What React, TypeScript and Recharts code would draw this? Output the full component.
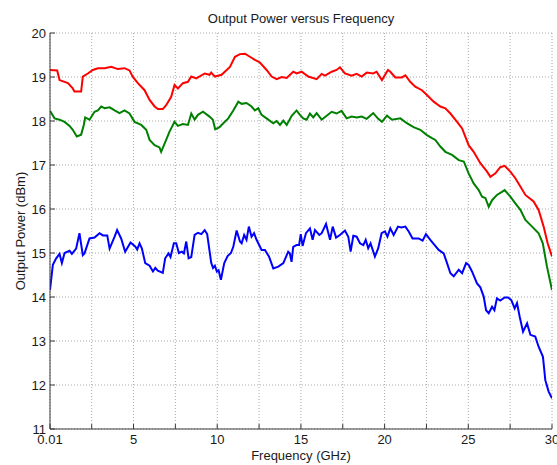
import React from 'react';
import { LineChart, Line, XAxis, YAxis, CartesianGrid } from 'recharts';

const chartTitle = 'Output Power versus Frequency';
const xTitle = 'Frequency (GHz)';
const yTitle = 'Output Power (dBm)';

const xTicks = [0.01, 2.5, 5, 7.5, 10, 12.5, 15, 17.5, 20, 22.5, 25, 27.5, 30];
const xTickLabels = ['0.01', '', '5', '', '10', '', '15', '', '20', '', '25', '', '30'];
const yTicks = [11, 12, 13, 14, 15, 16, 17, 18, 19, 20];

// [frequency GHz, power dBm]
const redPoints: [number, number][] = [
  [0.01, 19.16], [0.44, 19.15], [0.58, 18.93], [1.08, 18.86], [1.37, 18.74], [1.47, 18.67], [1.87, 18.67],
  [1.97, 19.01], [2.27, 19.08], [2.57, 19.16], [2.87, 19.2], [3.27, 19.2], [3.67, 19.23], [4.06, 19.18],
  [4.46, 19.2], [4.76, 19.15], [4.96, 19.0], [5.26, 18.86], [5.66, 18.7], [5.96, 18.48], [6.26, 18.33],
  [6.46, 18.27], [6.75, 18.27], [6.95, 18.36], [7.25, 18.55], [7.45, 18.82], [7.65, 18.74], [7.95, 18.86],
  [8.25, 18.89], [8.45, 19.01], [8.75, 18.97], [9.25, 19.08], [9.54, 19.05], [9.64, 19.1], [9.86, 19.01],
  [10.26, 19.05], [10.76, 19.23], [11.06, 19.46], [11.36, 19.52], [11.66, 19.53], [11.95, 19.46],
  [12.25, 19.39], [12.55, 19.33], [12.95, 19.16], [13.25, 19.01], [13.55, 18.95], [13.85, 19.0],
  [14.15, 18.98], [14.54, 19.12], [14.74, 19.08], [15.04, 19.12], [15.44, 19.01], [15.94, 18.95],
  [16.24, 19.07], [16.44, 19.03], [16.84, 19.12], [17.13, 19.16], [17.33, 19.22], [17.63, 19.08],
  [18.03, 19.03], [18.33, 19.07], [18.63, 19.01], [18.93, 19.1], [19.32, 19.08], [19.52, 19.12],
  [19.84, 18.93], [20.2, 19.16], [20.34, 19.12], [20.64, 18.99], [21.04, 18.99], [21.24, 19.04],
  [21.53, 18.89], [21.83, 18.78], [22.23, 18.7], [22.53, 18.59], [22.93, 18.44], [23.33, 18.33],
  [23.63, 18.29], [23.93, 18.17], [24.33, 17.98], [24.63, 17.83], [25.02, 17.45], [25.32, 17.3],
  [25.72, 17.04], [26.12, 16.85], [26.32, 16.73], [26.62, 16.81], [26.91, 16.95], [27.17, 16.98],
  [27.51, 16.85], [27.81, 16.7], [28.11, 16.51], [28.41, 16.32], [28.9, 16.17], [29.2, 15.98],
  [29.5, 15.6], [29.74, 15.22], [30, 14.92],
];

const greenPoints: [number, number][] = [
  [0.01, 18.23], [0.28, 18.06], [0.58, 18.03], [0.88, 17.98], [1.18, 17.89], [1.37, 17.8], [1.61, 17.65],
  [1.87, 17.69], [2.03, 17.91], [2.11, 18.08], [2.37, 18.03], [2.67, 18.21], [2.87, 18.24], [3.07, 18.33],
  [3.27, 18.29], [3.57, 18.31], [3.87, 18.24], [4.16, 18.18], [4.46, 18.24], [4.76, 18.17], [5.06, 17.98],
  [5.46, 17.91], [5.76, 17.8], [5.96, 17.57], [6.26, 17.45], [6.55, 17.4], [6.65, 17.3], [6.95, 17.57],
  [7.15, 17.76], [7.45, 17.98], [7.65, 17.89], [7.95, 17.93], [8.25, 17.91], [8.45, 18.17], [8.65, 18.03],
  [8.85, 18.14], [9.15, 18.21], [9.54, 18.1], [9.74, 18.03], [9.88, 17.81], [10.14, 17.86], [10.26, 17.91],
  [10.66, 18.06], [10.96, 18.24], [11.26, 18.44], [11.46, 18.39], [11.75, 18.41], [12.05, 18.33],
  [12.25, 18.24], [12.45, 18.29], [12.65, 18.14], [13.05, 18.03], [13.35, 17.95], [13.55, 18.0],
  [13.75, 17.91], [13.95, 18.01], [14.15, 17.91], [14.45, 18.12], [14.74, 18.24], [14.94, 18.14],
  [15.14, 18.06], [15.34, 18.03], [15.54, 18.17], [15.74, 18.08], [15.94, 18.18], [16.24, 18.03],
  [16.54, 18.12], [16.84, 18.21], [17.13, 18.17], [17.43, 18.23], [17.73, 18.06], [18.03, 18.1],
  [18.33, 18.08], [18.63, 18.1], [18.93, 18.05], [19.32, 18.18], [19.62, 18.05], [19.84, 17.98],
  [20.14, 18.12], [20.44, 18.03], [20.94, 18.06], [21.33, 17.95], [21.73, 17.86], [22.13, 17.8],
  [22.53, 17.68], [22.83, 17.61], [23.03, 17.57], [23.33, 17.42], [23.63, 17.3], [24.03, 17.23],
  [24.43, 17.11], [24.73, 17.08], [25.02, 16.81], [25.32, 16.58], [25.62, 16.43], [25.82, 16.28],
  [26.02, 16.25], [26.22, 16.05], [26.42, 16.2], [26.71, 16.32], [27.01, 16.39], [27.17, 16.43],
  [27.51, 16.28], [27.81, 16.13], [28.11, 15.98], [28.41, 15.75], [28.81, 15.6], [29.2, 15.45],
  [29.45, 15.22], [29.7, 14.69], [30, 14.16],
];

const bluePoints: [number, number][] = [
  [0.01, 14.16], [0.18, 14.73], [0.38, 14.88], [0.58, 14.98], [0.72, 14.77], [0.88, 15.0], [1.18, 15.05],
  [1.32, 14.98], [1.57, 15.1], [1.77, 15.45], [1.97, 14.95], [2.07, 14.99], [2.37, 15.33], [2.67, 15.35],
  [2.97, 15.45], [3.17, 15.4], [3.43, 15.4], [3.57, 15.1], [3.87, 15.37], [4.02, 15.52], [4.26, 15.33],
  [4.5, 15.03], [4.82, 15.24], [5.1, 15.15], [5.22, 15.08], [5.36, 15.22], [5.5, 15.1], [5.7, 14.77],
  [5.96, 14.71], [6.16, 14.58], [6.3, 14.66], [6.45, 14.6], [6.75, 14.55], [6.89, 14.88], [7.09, 14.99],
  [7.21, 14.91], [7.41, 15.22], [7.55, 15.22], [7.71, 15.0], [7.89, 15.03], [8.01, 14.99], [8.15, 15.26],
  [8.29, 14.88], [8.45, 14.91], [8.65, 15.41], [8.85, 15.46], [9.05, 15.43], [9.25, 15.52], [9.4, 15.43],
  [9.64, 14.78], [9.75, 14.66], [9.86, 14.71], [9.98, 14.58], [10.08, 14.61], [10.22, 14.39],
  [10.42, 14.77], [10.62, 14.93], [10.82, 15.0], [10.96, 15.14], [11.16, 15.51], [11.36, 15.26],
  [11.46, 15.22], [11.61, 15.41], [11.75, 15.3], [11.89, 15.6], [12.05, 15.37], [12.2, 15.45],
  [12.35, 15.3], [12.65, 15.07], [12.85, 15.07], [13.09, 14.92], [13.35, 14.65], [13.65, 14.69],
  [13.95, 14.77], [14.24, 15.03], [14.34, 14.99], [14.44, 14.8], [14.54, 15.14], [14.74, 15.18],
  [14.89, 15.18], [14.99, 15.43], [15.1, 15.16], [15.3, 15.45], [15.54, 15.56], [15.7, 15.3],
  [15.84, 15.52], [16.1, 15.41], [16.24, 15.45], [16.5, 15.66], [16.74, 15.3], [16.9, 15.6],
  [17.1, 15.35], [17.33, 15.41], [17.63, 15.51], [17.83, 15.37], [17.97, 15.03], [18.13, 15.39],
  [18.33, 15.37], [18.53, 15.22], [18.73, 15.18], [18.87, 15.3], [19.02, 15.11], [19.16, 15.22],
  [19.42, 14.92], [19.62, 15.11], [19.82, 15.45], [20.02, 15.49], [20.17, 15.37], [20.34, 15.56],
  [20.54, 15.41], [20.8, 15.6], [21.0, 15.58], [21.24, 15.6], [21.44, 15.49], [21.67, 15.33],
  [22.03, 15.33], [22.27, 15.28], [22.47, 15.43], [22.73, 15.3], [22.99, 15.18], [23.23, 15.07],
  [23.53, 14.99], [23.73, 14.77], [23.93, 14.54], [24.13, 14.47], [24.43, 14.62], [24.63, 14.54],
  [24.87, 14.77], [25.02, 14.73], [25.22, 14.58], [25.52, 14.31], [25.72, 14.22], [25.92, 14.01],
  [26.06, 13.7], [26.22, 13.63], [26.42, 13.78], [26.56, 13.7], [26.71, 13.97], [26.91, 13.92],
  [27.17, 13.99], [27.37, 13.99], [27.57, 13.93], [27.77, 13.74], [27.91, 13.86], [28.07, 13.55],
  [28.27, 13.21], [28.51, 13.4], [28.71, 13.14], [29.0, 13.1], [29.2, 12.87], [29.46, 12.64],
  [29.6, 12.11], [29.8, 11.85], [30, 11.7],
];

const toRows = (pts: [number, number][]) => pts.map(([x, y]) => ({ x, y }));

const FONT = '"Liberation Sans", Arial, Helvetica, sans-serif';
const TEXT = '#1a1a1a';
const AXIS = '#3a3a3a';

const fmtX = (v: number) => {
  const i = xTicks.indexOf(v);
  return i >= 0 ? xTickLabels[i] : '';
};

export default function App() {
  return (
    <div style={{ position: 'absolute', left: 0, top: 0, width: 557, height: 465, background: '#fff' }}>
      <div
        style={{
          position: 'absolute',
          left: 50,
          top: 11,
          width: 502,
          textAlign: 'center',
          fontFamily: FONT,
          fontSize: 13,
          lineHeight: '15px',
          color: TEXT,
          whiteSpace: 'nowrap',
        }}
      >
        {chartTitle}
      </div>
      <LineChart width={557} height={465} margin={{ top: 33, right: 5, bottom: 0, left: 0 }}>
        <CartesianGrid stroke="#a8a8a8" strokeDasharray="1 2" />
        <XAxis
          dataKey="x"
          type="number"
          domain={[0.01, 30]}
          ticks={xTicks}
          tickFormatter={fmtX}
          interval={0}
          height={36}
          stroke={AXIS}
          tickSize={-5}
          tickMargin={11}
          tick={{ fontSize: 13, fontFamily: FONT, fill: TEXT }}
          allowDataOverflow
          label={{ value: xTitle, position: 'insideBottom', offset: 5, fontSize: 13, fontFamily: FONT, fill: TEXT }}
        />
        <XAxis
          xAxisId="top"
          orientation="top"
          dataKey="x"
          type="number"
          domain={[0.01, 30]}
          ticks={xTicks}
          tickFormatter={() => ''}
          interval={0}
          height={0}
          stroke={AXIS}
          tickSize={-5}
        />
        <YAxis
          type="number"
          domain={[11, 20]}
          ticks={yTicks}
          interval={0}
          width={50}
          stroke={AXIS}
          tickSize={-5}
          tickMargin={9}
          tick={{ fontSize: 13, fontFamily: FONT, fill: TEXT }}
          allowDataOverflow
          label={{ value: yTitle, angle: -90, position: 'insideLeft', offset: 20, fontSize: 13, fontFamily: FONT, fill: TEXT, style: { textAnchor: 'middle' } }}
        />
        <YAxis
          yAxisId="right"
          orientation="right"
          type="number"
          domain={[11, 20]}
          ticks={yTicks}
          tickFormatter={() => ''}
          interval={0}
          width={0}
          stroke={AXIS}
          tickSize={-5}
        />
        <Line data={toRows(redPoints)} dataKey="y" type="linear" stroke="#ff0000" strokeWidth={2} dot={false} isAnimationActive={false} />
        <Line data={toRows(greenPoints)} dataKey="y" type="linear" stroke="#008000" strokeWidth={2} dot={false} isAnimationActive={false} />
        <Line data={toRows(bluePoints)} dataKey="y" type="linear" stroke="#0000ff" strokeWidth={2} dot={false} isAnimationActive={false} />
      </LineChart>
    </div>
  );
}
